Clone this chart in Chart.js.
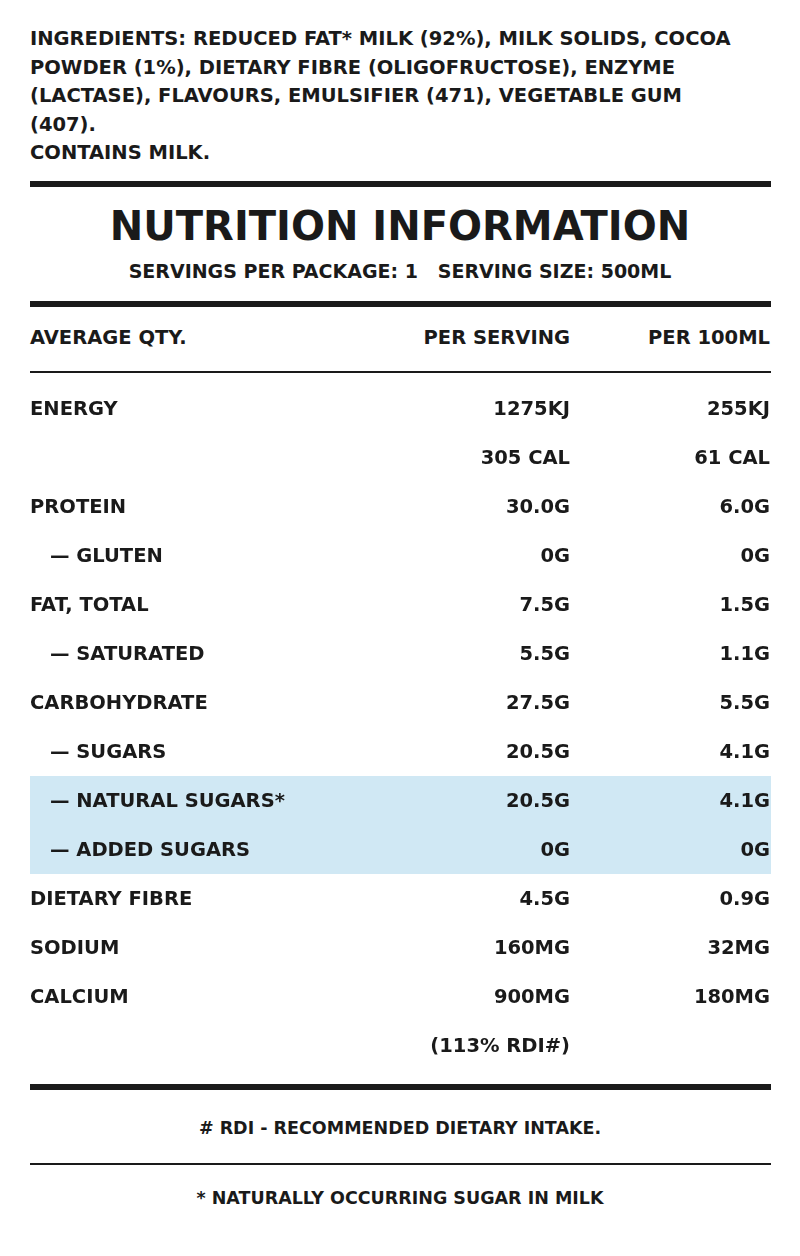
<!DOCTYPE html>
<html>
<head>
<meta charset="utf-8">
<script src="https://cdn.jsdelivr.net/npm/chart.js@4"></script>
<style>
  body { margin: 0; width: 800px; height: 1256px; background: #fff; position: relative;
         font-family: "DejaVu Sans", sans-serif; font-weight: bold; color: #1a1a1a; overflow: hidden; }
  .t { position: absolute; white-space: nowrap; }
  .rule { position: absolute; left: 30px; width: 741px; background: #1a1a1a; }
  #box { position: absolute; left: 0; top: 384px; width: 800px; height: 686px; }
</style>
</head>
<body>
<div class="t" style="left:30px;top:25px;font-size:19.5px;line-height:28.5px;">
INGREDIENTS: REDUCED FAT* MILK (92%), MILK SOLIDS, COCOA<br>
POWDER (1%), DIETARY FIBRE (OLIGOFRUCTOSE), ENZYME<br>
(LACTASE), FLAVOURS, EMULSIFIER (471), VEGETABLE GUM<br>
(407).<br>
CONTAINS MILK.
</div>
<div class="rule" style="top:181px;height:6px;"></div>
<div class="t" style="left:0;width:800px;text-align:center;top:203px;font-size:40px;">NUTRITION INFORMATION</div>
<div class="t" style="left:0;width:800px;text-align:center;top:260px;font-size:19px;">SERVINGS PER PACKAGE: 1&nbsp;&nbsp;&nbsp;SERVING SIZE: 500ML</div>
<div class="rule" style="top:301px;height:6px;"></div>
<div class="t" style="left:30px;top:326px;font-size:19.5px;">AVERAGE QTY.</div>
<div class="t" style="right:230px;top:326px;font-size:19.5px;">PER SERVING</div>
<div class="t" style="right:30px;top:326px;font-size:19.5px;">PER 100ML</div>
<div class="rule" style="top:371px;height:2px;"></div>
<div id="box"><canvas id="grafico"></canvas></div>
<div class="rule" style="top:1084px;height:6px;"></div>
<div class="t" style="left:0;width:800px;text-align:center;top:1118px;font-size:17.5px;"># RDI - RECOMMENDED DIETARY INTAKE.</div>
<div class="rule" style="top:1163px;height:2px;"></div>
<div class="t" style="left:0;width:800px;text-align:center;top:1188px;font-size:17.5px;">* NATURALLY OCCURRING SUGAR IN MILK</div>
<script>
// filas de la tabla
const rowLabels  = ['ENERGY', '', 'PROTEIN', 'GLUTEN', 'FAT, TOTAL', 'SATURATED', 'CARBOHYDRATE',
                    'SUGARS', 'NATURAL SUGARS*', 'ADDED SUGARS', 'DIETARY FIBRE', 'SODIUM', 'CALCIUM', ''];
const perServing = ['1275KJ', '305 CAL', '30.0G', '0G', '7.5G', '5.5G', '27.5G',
                    '20.5G', '20.5G', '0G', '4.5G', '160MG', '900MG', '(113% RDI#)'];
const per100ml   = ['255KJ', '61 CAL', '6.0G', '0G', '1.5G', '1.1G', '5.5G',
                    '4.1G', '4.1G', '0G', '0.9G', '32MG', '180MG', ''];
const subRows    = ['GLUTEN', 'SATURATED', 'SUGARS', 'NATURAL SUGARS*', 'ADDED SUGARS'];
const highlighted = ['NATURAL SUGARS*', 'ADDED SUGARS'];

const keys = rowLabels.map((l, i) => 'r' + i);

// ───────────────────────── dibuja celdas sobre la escala
const tablePlugin = {
  id: 'tabla',
  beforeDatasetsDraw(chart) {
    const { ctx, scales: { y } } = chart;
    const step = y.getPixelForValue(1) - y.getPixelForValue(0);
    ctx.save();
    ctx.fillStyle = '#d0e8f4';
    rowLabels.forEach((l, i) => {
      if (highlighted.includes(l)) ctx.fillRect(30, y.getPixelForValue(i) - step / 2, 741, step);
    });
    ctx.fillStyle = '#1a1a1a';
    ctx.font = 'bold 19.5px "DejaVu Sans"';
    ctx.textBaseline = 'middle';
    rowLabels.forEach((l, i) => {
      const py = y.getPixelForValue(i) + 1;
      ctx.textAlign = 'left';
      if (l) ctx.fillText(subRows.includes(l) ? '\u2014 ' + l : l, subRows.includes(l) ? 50 : 30, py);
      ctx.textAlign = 'right';
      ctx.fillText(perServing[i], 570, py);
      ctx.fillText(per100ml[i], 770, py);
    });
    ctx.restore();
  }
};

new Chart(document.getElementById('grafico'), {
  type: 'bar',
  data: { labels: keys, datasets: [{ data: keys.map(() => 0), backgroundColor: 'transparent' }] },
  options: {
    indexAxis: 'y',
    responsive: true,
    maintainAspectRatio: false,
    animation: false,
    layout: { padding: 0 },
    plugins: { legend: { display: false }, tooltip: { enabled: false } },
    scales: {
      x: { display: false, min: 0, max: 1 },
      y: { display: false, offset: true }
    }
  },
  plugins: [tablePlugin]
});
</script>
</body>
</html>
